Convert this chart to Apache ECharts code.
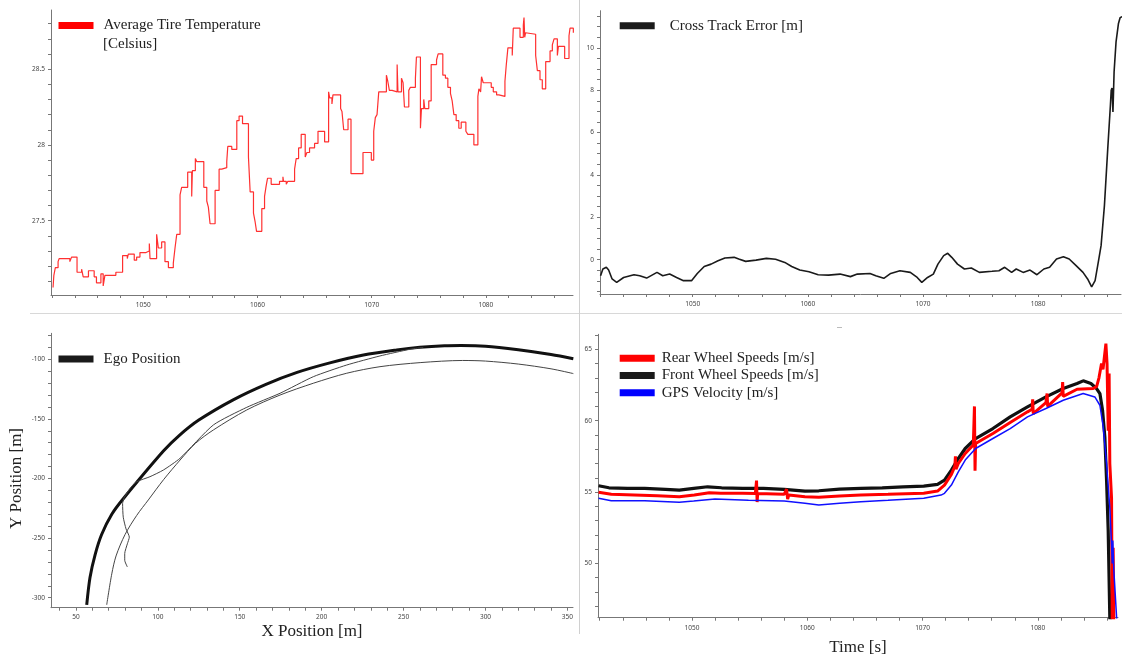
<!DOCTYPE html>
<html><head><meta charset="utf-8">
<script src="https://cdn.jsdelivr.net/npm/echarts@6/dist/echarts.min.js"></script>
<style>html,body{margin:0;padding:0;background:#fff}#c{width:1122px;height:657px}</style>
</head><body><div id="c"></div>
<script>
// ---------- data ----------
const tempName = 'Average Tire Temperature';
const tireTemp = [
[1042.1,27.06],[1042.17,27.14],[1042.3,27.19],[1042.54,27.23],[1042.63,27.25],[1043.57,27.23],[1043.72,27.26],[1044.2,27.16],[1044.6,27.18],[1044.74,27.13],[1045.2,27.17],[1045.7,27.13],[1045.9,27.09],[1046.29,27.15],[1046.49,27.07],[1046.64,27.14],[1047.6,27.16],[1048.19,27.27],[1048.6,27.25],[1048.69,27.28],[1049.21,27.24],[1049.42,27.26],[1049.71,27.29],[1050.24,27.30],[1050.53,27.35],[1050.59,27.25],[1051.17,27.41],[1051.32,27.32],[1051.61,27.36],[1051.9,27.23],[1052.2,27.19],[1052.63,27.22],[1052.78,27.32],[1052.93,27.41],[1053.22,27.67],[1053.36,27.72],[1053.89,27.82],[1054.24,27.66],[1054.3,27.83],[1054.56,27.91],[1054.68,27.89],[1055.3,27.72],[1055.56,27.63],[1055.7,27.59],[1055.85,27.48],[1056.29,27.70],[1056.64,27.84],[1056.87,27.85],[1057.31,27.89],[1057.40,27.99],[1057.75,27.97],[1058.19,28.16],[1058.39,28.19],[1058.69,28.14],[1059.21,27.92],[1059.36,27.69],[1059.65,27.55],[1059.80,27.49],[1059.92,27.43],[1060.38,27.58],[1060.62,27.66],[1060.76,27.73],[1060.88,27.78],[1061.20,27.74],[1061.93,27.76],[1062.23,27.79],[1062.28,27.76],[1062.52,27.74],[1062.66,27.76],[1063.25,27.84],[1063.39,27.91],[1063.60,27.98],[1063.83,28.07],[1064.18,27.92],[1064.33,27.95],[1064.56,27.98],[1065.00,28.01],[1065.30,28.09],[1065.88,28.02],[1066.23,28.35],[1066.32,28.31],[1066.52,28.27],[1066.61,28.33],[1067.28,28.24],[1067.40,28.22],[1067.55,28.10],[1067.93,28.17],[1068.19,27.81],[1069.24,27.95],[1069.97,27.90],[1070.18,28.09],[1070.32,28.18],[1070.47,28.20],[1070.62,28.35],[1071.29,28.46],[1071.41,28.42],[1071.55,28.36],[1071.79,28.35],[1072.23,28.53],[1072.30,28.35],[1072.61,28.44],[1072.75,28.41],[1072.87,28.25],[1073.25,28.36],[1073.39,28.38],[1073.83,28.44],[1073.92,28.58],[1074.27,28.11],[1074.36,28.24],[1074.56,28.30],[1074.65,28.24],[1075.00,28.29],[1075.21,28.53],[1075.68,28.56],[1075.82,28.60],[1076.23,28.46],[1076.46,28.44],[1076.67,28.38],[1076.90,28.34],[1077.05,28.29],[1077.20,28.20],[1077.40,28.16],[1077.63,28.11],[1077.84,28.15],[1078.25,28.09],[1078.42,28.07],[1078.95,28.00],[1079.30,28.32],[1079.39,28.37],[1079.54,28.35],[1079.62,28.45],[1079.77,28.41],[1080.47,28.38],[1080.65,28.35],[1080.94,28.33],[1081.14,28.32],[1081.67,28.42],[1081.79,28.53],[1081.93,28.64],[1082.31,28.59],[1082.40,28.77],[1082.99,28.71],[1083.28,28.79],[1083.34,28.84],[1083.40,28.71],[1083.48,28.74],[1083.63,28.73],[1084.36,28.59],[1084.51,28.49],[1084.74,28.43],[1084.94,28.37],[1085.24,28.55],[1085.62,28.62],[1085.82,28.66],[1085.97,28.70],[1086.26,28.59],[1086.35,28.65],[1086.90,28.57],[1087.28,28.72],[1087.37,28.77],[1087.66,28.74]
];

const cteName = 'Cross Track Error [m]';
const crossTrack = [
[1042.0,-0.76],[1042.2,-0.44],[1042.5,-0.36],[1042.7,-0.49],[1043.0,-0.91],[1043.4,-1.07],[1044.0,-0.84],[1044.9,-0.71],[1045.4,-0.76],[1046.0,-0.87],[1046.9,-0.6],[1047.4,-0.76],[1048.0,-0.68],[1048.6,-0.84],[1049.2,-0.99],[1049.9,-0.99],[1050.4,-0.65],[1051.0,-0.32],[1051.6,-0.21],[1052.2,-0.05],[1052.8,0.08],[1053.6,0.11],[1054.0,0.03],[1054.6,-0.08],[1055.5,-0.02],[1056.4,0.06],[1057.2,0.02],[1058.0,-0.13],[1058.6,-0.32],[1059.3,-0.49],[1060.1,-0.57],[1060.9,-0.71],[1061.8,-0.73],[1062.8,-0.68],[1063.7,-0.80],[1064.3,-0.68],[1065.4,-0.65],[1065.9,-0.76],[1066.6,-0.88],[1067.2,-0.65],[1068.0,-0.52],[1068.9,-0.6],[1069.5,-0.84],[1069.9,-1.07],[1070.4,-0.84],[1070.9,-0.68],[1071.3,-0.21],[1071.8,0.19],[1072.15,0.30],[1072.5,0.11],[1073.0,-0.21],[1073.6,-0.44],[1074.2,-0.39],[1074.9,-0.6],[1076.0,-0.55],[1076.6,-0.52],[1077.1,-0.36],[1077.7,-0.6],[1078.1,-0.44],[1078.7,-0.6],[1079.3,-0.49],[1079.9,-0.71],[1080.5,-0.44],[1081.0,-0.36],[1081.6,0.03],[1082.2,0.14],[1082.7,0.03],[1083.3,-0.28],[1083.9,-0.6],[1084.3,-0.91],[1084.65,-1.28],[1084.95,-0.99],[1085.25,-0.05],[1085.47,0.66],[1085.76,2.55],[1086.05,5.24],[1086.28,7.29],[1086.35,8.0],[1086.42,8.1],[1086.5,6.97],[1086.55,7.0],[1086.6,8.86],[1086.72,8.9],[1086.77,10.28],[1086.9,10.36],[1086.98,11.15],[1087.12,11.42],[1087.3,11.47]
];

const egoName = 'Ego Position';
const egoOuter = [
[56.6,-306],[58.6,-283],[61.7,-264],[65.7,-247],[71.9,-230],[78.9,-217],[103.4,-177],[113,-164],[125,-151],[146,-134],[166,-121],[185,-111],[205,-103],[225.5,-96.4],[245.8,-92.2],[260,-90],[275,-88.7],[285,-88.5],[300,-89],[320,-92],[340,-96],[353.6,-99.5]
];
const egoInner = [
[68.8,-306],[71.9,-280],[74.5,-265],[80,-247],[87.1,-231],[94.2,-218],[103.5,-201],[113.6,-184.5],[123,-170.5],[133.9,-159.3],[154.3,-142.5],[174.6,-130],[194.9,-120.1],[215.3,-111.7],[235.6,-106.2],[260.1,-102.8],[286,-101],[300,-101.5],[320,-104],[340,-108],[353.6,-112]
];
const egoTransition = [
[81.4,-274.2],[79.8,-268.6],[79.8,-263],[81.4,-254.8],[82.6,-249.2],[80.6,-242.3],[78.9,-232.5],[78.5,-221],[79.5,-216],[83.5,-207.5],[87.1,-202.7],[95.2,-198.5],[103.4,-192.9],[113.6,-183],[133.9,-155.1],[154.3,-140.3],[174.6,-128.5],[194.9,-114.6],[215.3,-104.8],[235.6,-97.2],[253.9,-91.6],[262,-90]
];

const rearName = 'Rear Wheel Speeds [m/s]';
const frontName = 'Front Wheel Speeds [m/s]';
const gpsName = 'GPS Velocity [m/s]';
const rearSpeed = [
[1041.9,54.98],[1043,54.84],[1045,54.79],[1047,54.74],[1048.9,54.67],[1050.2,54.79],[1051.5,54.95],[1052.5,54.92],[1054.4,54.91],[1055.5,54.9],[1055.6,55.8],[1055.65,54.3],[1055.7,54.9],[1058,54.84],[1058.2,55.2],[1058.3,54.5],[1058.4,54.8],[1059.8,54.67],[1061,54.63],[1062.8,54.72],[1064.65,54.79],[1067,54.84],[1070.1,54.91],[1071.3,55.07],[1071.9,55.49],[1072.5,56.24],[1072.8,56.8],[1072.85,57.5],[1072.9,56.6],[1073.1,57.0],[1073.7,57.7],[1074.4,58.3],[1074.5,61.0],[1074.55,56.5],[1074.6,58.4],[1076.1,59.1],[1077.6,59.87],[1079.1,60.62],[1079.5,60.8],[1079.55,61.5],[1079.6,60.5],[1080.7,61.27],[1080.8,61.9],[1080.85,61.0],[1082.1,61.95],[1082.15,62.7],[1082.2,61.7],[1083.4,62.2],[1084.8,62.25],[1085.1,62.4],[1085.3,63.0],[1085.52,64.0],[1085.65,63.6],[1085.9,65.4],[1086.0,64.0],[1086.1,59.3],[1086.18,63.3],[1086.24,57],[1086.39,54.6],[1086.45,46],[1086.53,51.1],[1086.59,45.5]
];
const frontSpeed = [
[1041.9,55.44],[1042.8,55.30],[1044.4,55.26],[1045.9,55.26],[1047.7,55.19],[1048.9,55.14],[1050.15,55.26],[1051.36,55.37],[1052.57,55.30],[1054.4,55.26],[1056.2,55.26],[1058,55.19],[1059.8,55.07],[1061,55.09],[1062.8,55.21],[1064.65,55.26],[1066.5,55.30],[1068.3,55.37],[1070.1,55.42],[1071.3,55.54],[1071.9,55.84],[1072.5,56.54],[1073.1,57.35],[1073.7,58.05],[1074.6,58.75],[1076.1,59.45],[1077.6,60.27],[1079.1,60.97],[1080.7,61.67],[1082.2,62.25],[1083.4,62.6],[1083.93,62.79],[1084.6,62.6],[1085.09,62.25],[1085.38,61.9],[1085.61,60.73],[1085.81,58.85],[1085.96,55.8],[1086.1,52.3],[1086.24,46.2],[1086.3,45]
];
const gpsSpeed = [
[1041.9,54.56],[1043,54.39],[1045.9,54.39],[1048.9,54.28],[1050.15,54.37],[1052,54.51],[1054.9,54.42],[1058,54.37],[1059.8,54.21],[1061,54.09],[1062.8,54.21],[1064.65,54.32],[1067,54.42],[1070.1,54.56],[1071.6,54.79],[1071.9,54.91],[1072.5,55.49],[1073.1,56.42],[1073.7,57.24],[1074.6,58.05],[1076.1,58.75],[1077.6,59.45],[1079.1,60.27],[1080.7,60.85],[1082.2,61.43],[1083.93,61.9],[1084.94,61.66],[1085.38,61.08],[1085.67,59.55],[1085.96,56.97],[1086.24,53.9],[1086.39,51.3],[1086.45,50.0],[1086.5,51.6],[1086.59,49.5],[1086.83,46.2],[1086.9,45.5]
];

// tick labels
const timeLabels = [1050, 1060, 1070, 1080];
const tempLabels = [27.5, 28, 28.5];
const cteLabels = [0, 2, 4, 6, 8, 10];
const xPosLabels = [50, 100, 150, 200, 250, 300, 350];
const yPosLabels = [-300, -250, -200, -150, -100];
const speedLabels = [50, 55, 60, 65];

// ---------- chart ----------
function seq(a, b, step) { const o = []; for (let v = a; v <= b + 1e-9; v += step) o.push(+v.toFixed(4)); return o; }
const TICK_FONT = '"Noto Sans", "DejaVu Sans", sans-serif';
const SERIF = '"Liberation Serif", "DejaVu Serif", serif';

function axis(gridIndex, min, max, ticks, labels, margin, extra) {
  return Object.assign({
    type: 'value', gridIndex, min, max,
    axisLine: { show: true, onZero: false, lineStyle: { color: '#777', width: 1 } },
    axisTick: { show: true, length: 3, lineStyle: { color: '#777' }, customValues: ticks },
    axisLabel: { fontSize: 6.5, color: '#444', fontFamily: TICK_FONT, margin: margin, customValues: labels,
      formatter: v => String(v) },
    splitLine: { show: false }
  }, extra || {});
}

function legend(names, left, top, pad, extra) {
  return Object.assign({
    data: names, left, top, padding: 0, icon: 'rect', itemWidth: 35, itemHeight: 7,
    textStyle: { fontFamily: SERIF, fontSize: 15, color: '#222', padding: [0, 0, 0, pad] }
  }, extra || {});
}

const chart = echarts.init(document.getElementById('c'), null, { renderer: 'canvas' });
const option = {
  animation: false,
  backgroundColor: '#fff',
  grid: [
    { left: 51, top: 10, width: 522, height: 285 },
    { left: 600, top: 10.7, width: 521, height: 283.3 },
    { left: 51, top: 333.3, width: 522, height: 274.4 },
    { left: 598, top: 334.3, width: 520, height: 283.4 }
  ],
  xAxis: [
    axis(0, 1041.92, 1087.63, seq(1042, 1086, 2), timeLabels, 7),
    axis(1, 1041.95, 1087.2, seq(1042, 1086, 2), timeLabels, 7),
    axis(2, 34.8, 353.4, seq(40, 350, 10), xPosLabels, 6, {
      name: 'X Position [m]', nameLocation: 'middle', nameGap: 15,
      nameTextStyle: { fontFamily: SERIF, fontSize: 17, color: '#222' }
    }),
    axis(3, 1041.85, 1086.95, seq(1042, 1086, 2), timeLabels, 6.5, {
      name: 'Time [s]', nameLocation: 'middle', nameGap: 21,
      nameTextStyle: { fontFamily: SERIF, fontSize: 17, color: '#222' }
    })
  ],
  yAxis: [
    axis(0, 27.01, 28.89, seq(27.1, 28.8, 0.1), tempLabels, 6),
    axis(1, -1.62, 11.75, seq(-1.5, 11.5, 0.5), cteLabels, 6),
    axis(2, -308.4, -78.2, seq(-300, -80, 10), yPosLabels, 6),
    axis(3, 46.2, 66.05, seq(47, 66, 1), speedLabels, 6)
  ],
  legend: [
    legend([tempName], 58.5, 18, 5),
    legend([cteName], 619.7, 18.2, 10),
    legend([egoName], 58.5, 351.5, 5),
    legend([rearName, frontName, gpsName], 619.7, 350.8, 2, { orient: 'vertical', itemGap: 2.2 })
  ],
  graphic: [
    { type: 'text', left: 103, top: 36.5, silent: true,
      style: { text: '[Celsius]', font: '15px ' + SERIF, fill: '#222' } },
    { type: 'text', x: 16.7, y: 478.5, rotation: Math.PI / 2, silent: true,
      style: { text: 'Y Position [m]', font: '17px ' + SERIF, fill: '#222', align: 'center', verticalAlign: 'middle' } },
    { type: 'line', silent: true, shape: { x1: 30, y1: 313.5, x2: 1122, y2: 313.5 }, style: { stroke: '#d8d8d8', lineWidth: 1 } },
    { type: 'line', silent: true, shape: { x1: 579.5, y1: 0, x2: 579.5, y2: 634 }, style: { stroke: '#d0d0d0', lineWidth: 1 } },
    { type: 'line', silent: true, shape: { x1: 837, y1: 327.5, x2: 842, y2: 327.5 }, style: { stroke: '#bbb', lineWidth: 1 } }
  ],
  series: [
    { name: tempName, type: 'line', xAxisIndex: 0, yAxisIndex: 0, step: 'end', showSymbol: false,
      data: tireTemp, itemStyle: { color: '#ff0000' }, lineStyle: { color: '#ff3030', width: 1.2 } },
    { name: cteName, type: 'line', xAxisIndex: 1, yAxisIndex: 1, showSymbol: false,
      data: crossTrack, itemStyle: { color: '#1a1a1a' }, lineStyle: { color: '#1a1a1a', width: 1.6 } },
    { name: egoName, type: 'line', xAxisIndex: 2, yAxisIndex: 2, showSymbol: false, smooth: 0.3,
      data: egoOuter, itemStyle: { color: '#1a1a1a' }, lineStyle: { color: '#111', width: 3 } },
    { name: 'Ego inner', type: 'line', xAxisIndex: 2, yAxisIndex: 2, showSymbol: false, smooth: 0.3,
      data: egoInner, itemStyle: { color: '#444' }, lineStyle: { color: '#444', width: 1 } },
    { name: 'Ego transition', type: 'line', xAxisIndex: 2, yAxisIndex: 2, showSymbol: false, smooth: 0.2,
      data: egoTransition, itemStyle: { color: '#444' }, lineStyle: { color: '#444', width: 1 } },
    { name: frontName, type: 'line', xAxisIndex: 3, yAxisIndex: 3, showSymbol: false,
      data: frontSpeed, itemStyle: { color: '#1a1a1a' }, lineStyle: { color: '#111', width: 3.2 } },
    { name: rearName, type: 'line', xAxisIndex: 3, yAxisIndex: 3, showSymbol: false,
      data: rearSpeed, itemStyle: { color: '#ff0000' }, lineStyle: { color: '#ff0000', width: 3 } },
    { name: gpsName, type: 'line', xAxisIndex: 3, yAxisIndex: 3, showSymbol: false,
      data: gpsSpeed, itemStyle: { color: '#0000ff' }, lineStyle: { color: '#1010ff', width: 1.5 } }
  ]
};
chart.setOption(option);
</script></body></html>
